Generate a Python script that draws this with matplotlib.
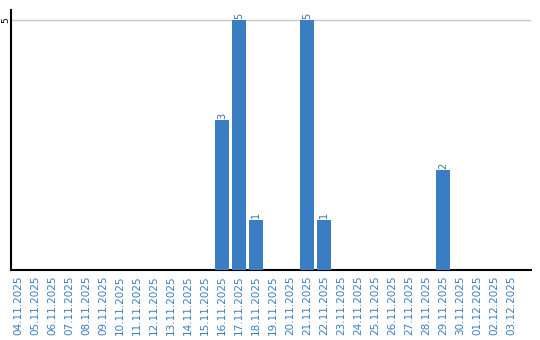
import matplotlib
matplotlib.use("Agg")
import matplotlib.pyplot as plt

dates = ["04.11.2025","05.11.2025","06.11.2025","07.11.2025","08.11.2025","09.11.2025",
         "10.11.2025","11.11.2025","12.11.2025","13.11.2025","14.11.2025","15.11.2025",
         "16.11.2025","17.11.2025","18.11.2025","19.11.2025","20.11.2025","21.11.2025",
         "22.11.2025","23.11.2025","24.11.2025","25.11.2025","26.11.2025","27.11.2025",
         "28.11.2025","29.11.2025","30.11.2025","01.12.2025","02.12.2025","03.12.2025"]
values = [0,0,0,0,0,0,0,0,0,0,0,0,3,5,1,0,0,5,1,0,0,0,0,0,0,2,0,0,0,0]
y_ticks = [5]

bar_color = "#3a7dc2"
label_color = "#3a7dc2"
value_color = "#3a6ea8"

fig = plt.figure(figsize=(5.4, 3.4), dpi=100)
ax = fig.add_axes([11/540, 70/340, 520/540, 260/340])

x = list(range(len(dates)))
bars = ax.bar(x, values, width=0.82, color=bar_color, zorder=3)
for xi, v in zip(x, values):
    if v > 0:
        ax.text(xi, v + 0.03, str(v), rotation=90, ha="center", va="bottom",
                fontsize=7, color=value_color)

ax.set_xlim(-0.41, 30.18)
ax.set_ylim(0, 5.2)
ax.set_yticks(y_ticks)
ax.set_yticklabels([str(t) for t in y_ticks], rotation=90, fontsize=6.5, va="center")
ax.yaxis.grid(True, color="#c8c8c8", linewidth=1, zorder=0)
ax.set_xticks(x)
ax.set_xticklabels(dates, rotation=90, fontsize=7.5, color=label_color)
ax.tick_params(axis="x", length=0, pad=4)
ax.tick_params(axis="y", length=0, pad=0.5)
for s in ["top", "right"]:
    ax.spines[s].set_visible(False)
ax.spines["left"].set_color("black")
ax.spines["bottom"].set_color("black")
ax.spines["left"].set_linewidth(1.5)
ax.spines["bottom"].set_linewidth(1.5)

fig.savefig("out.png", dpi=100)
